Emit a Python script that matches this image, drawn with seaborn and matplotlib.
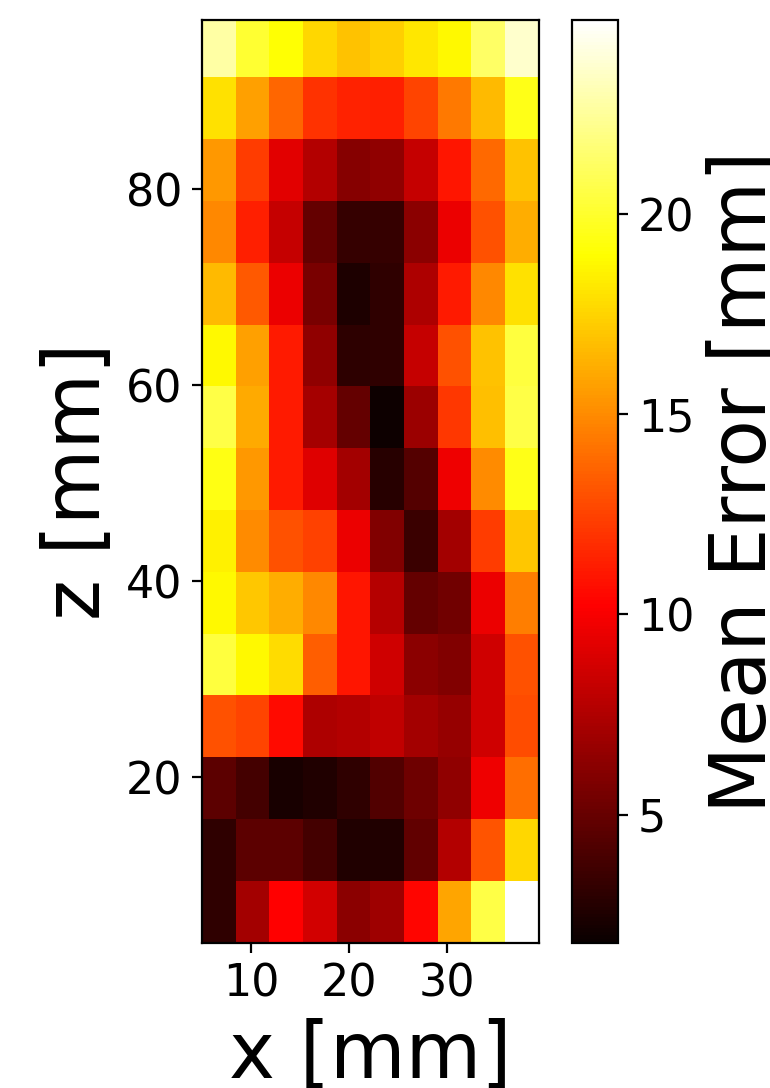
import numpy as np
import pandas as pd
import matplotlib
matplotlib.use("Agg")
import matplotlib.pyplot as plt
import seaborn as sns

# Grid cell centres (mm)
x_centers = [6.72, 10.16, 13.60, 17.04, 20.48, 23.92, 27.36, 30.80, 34.24, 37.68]
z_centers = [94.56, 88.25, 81.95, 75.64, 69.34, 63.03, 56.72, 50.42, 44.11,
             37.81, 31.50, 25.20, 18.89, 12.58, 6.28]  # top to bottom

# Mean error values (mm), rows from top (high z) to bottom (low z)
row_94 = [22.7, 20.1, 19.0, 17.6, 16.9, 17.3, 18.1, 18.8, 21.3, 23.6]
row_88 = [18.0, 15.7, 13.7, 11.9, 11.4, 11.3, 12.6, 14.4, 16.6, 19.5]
row_82 = [15.4, 12.3, 9.2, 7.6, 6.1, 6.4, 8.2, 10.9, 13.8, 16.9]
row_76 = [14.9, 11.3, 8.2, 4.9, 3.3, 3.3, 6.3, 9.6, 13.0, 16.2]
row_69 = [16.6, 13.3, 9.6, 5.6, 2.5, 3.1, 7.4, 11.1, 14.9, 18.0]
row_63 = [18.8, 15.7, 11.1, 6.4, 3.0, 3.1, 8.2, 13.0, 16.9, 20.4]
row_57 = [20.6, 16.1, 11.1, 7.2, 4.9, 1.96, 6.8, 12.1, 16.8, 20.6]
row_50 = [19.4, 15.4, 11.1, 9.1, 7.1, 2.8, 4.4, 9.7, 15.0, 19.5]
row_44 = [18.5, 15.0, 13.0, 12.5, 9.6, 5.9, 3.5, 7.1, 12.3, 17.1]
row_38 = [18.8, 17.1, 16.2, 14.9, 10.9, 7.7, 4.9, 5.4, 9.6, 14.5]
row_32 = [20.4, 18.8, 17.8, 13.5, 10.9, 8.6, 6.3, 5.9, 8.6, 13.0]
row_25 = [13.0, 12.6, 10.6, 7.4, 7.6, 8.1, 7.1, 6.6, 8.6, 12.8]
row_19 = [4.6, 3.8, 2.3, 2.6, 3.1, 4.3, 5.3, 6.4, 9.7, 14.0]
row_13 = [3.1, 4.6, 4.6, 3.8, 2.6, 2.6, 4.8, 7.6, 13.1, 17.6]
row_06 = [3.1, 7.1, 10.2, 8.7, 6.3, 6.9, 10.4, 15.9, 20.6, 24.85]

rows = [row_94, row_88, row_82, row_76, row_69, row_63, row_57, row_50,
        row_44, row_38, row_32, row_25, row_19, row_13, row_06]

x_ticks = [10, 20, 30]
z_ticks = [20, 40, 60, 80]
cbar_ticks = [5, 10, 15, 20]
v_min, v_max = 1.8, 24.85

df = pd.DataFrame(rows, index=z_centers, columns=x_centers)

fig = plt.figure(figsize=(3.85, 5.44), dpi=200)
W, H = 770, 1088
ax = fig.add_axes([202 / W, 1 - 942.7 / H, (538.5 - 202) / W, (942.7 - 20) / H])
cax = fig.add_axes([572 / W, 1 - 942.7 / H, 46 / W, (942.7 - 20) / H])

sns.heatmap(df, ax=ax, cbar_ax=cax, cmap="hot", vmin=v_min, vmax=v_max,
            xticklabels=False, yticklabels=False)

ncol, nrow = df.shape[1], df.shape[0]
col_pos = np.arange(ncol) + 0.5
row_pos = np.arange(nrow) + 0.5
xt = np.interp(x_ticks, x_centers, col_pos)
zt = np.interp(z_ticks, z_centers[::-1], row_pos[::-1])
ax.set_xticks(xt)
ax.set_xticklabels([str(t) for t in x_ticks], fontsize=16, rotation=0)
ax.set_yticks(zt)
ax.set_yticklabels([str(t) for t in z_ticks], fontsize=16, rotation=0)
ax.set_ylim(nrow, 0.07)
ax.tick_params(length=3.6, width=0.8, direction="out")
for s in ax.spines.values():
    s.set_visible(True)
    s.set_linewidth(0.8)
    s.set_color("black")
ax.set_xlabel("x [mm]", fontsize=28)
ax.set_ylabel("z [mm]", fontsize=28)

cbar = ax.collections[0].colorbar
cbar.set_ticks(cbar_ticks)
cbar.ax.tick_params(labelsize=16, length=3.6, width=0.8)
cbar.outline.set_linewidth(0.8)
cbar.outline.set_edgecolor("black")
cbar.set_label("Mean Error [mm]", fontsize=28)

fig.savefig("out.png", dpi=200)
